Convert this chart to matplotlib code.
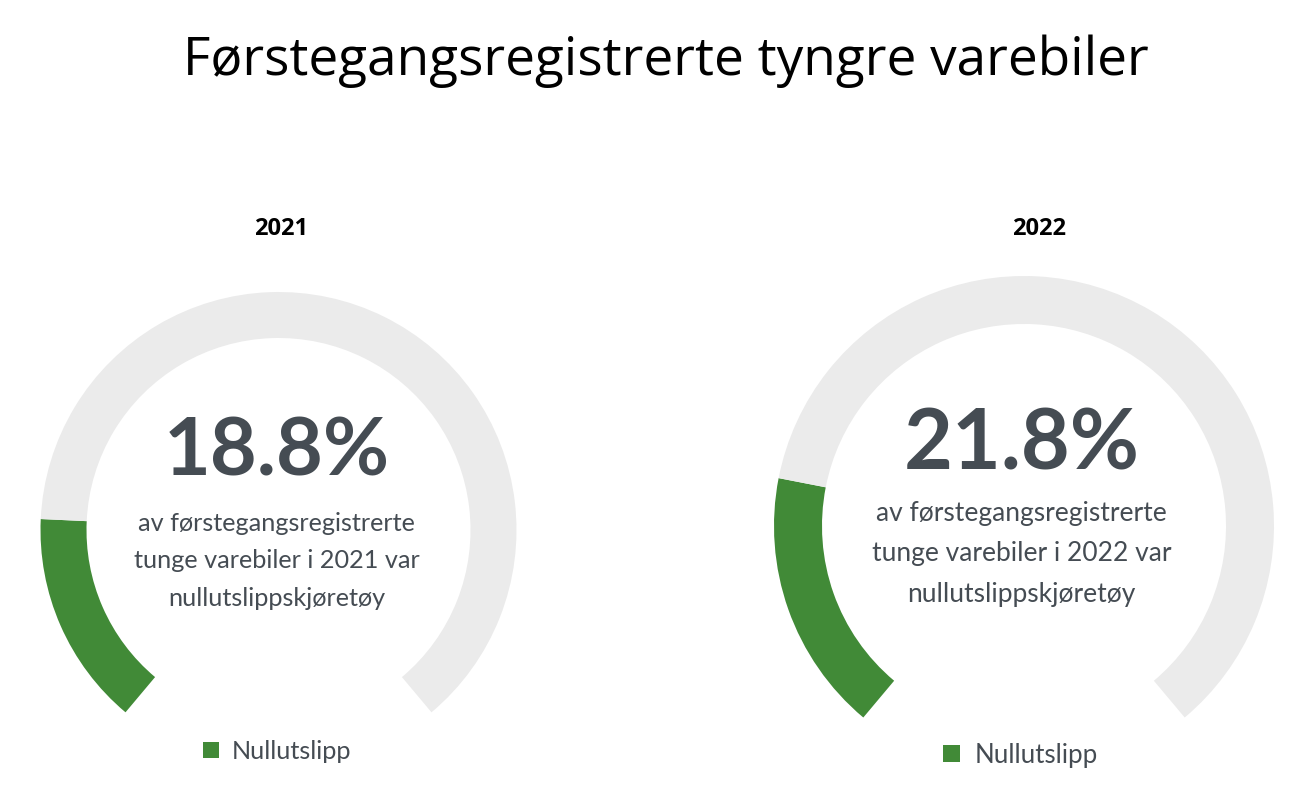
import matplotlib
matplotlib.use("Agg")
import matplotlib.pyplot as plt
from matplotlib.font_manager import FontProperties

# ---------------- data ----------------
title = "Førstegangsregistrerte tyngre varebiler"
years = ["2021", "2022"]
zero_emission_share = [18.8, 21.8]          # percent
series_label = "Nullutslipp"
big_labels = ["18.8%", "21.8%"]
body_lines = [
    ["av førstegangsregistrerte", "tunge varebiler i 2021 var", "nullutslippskjøretøy"],
    ["av førstegangsregistrerte", "tunge varebiler i 2022 var", "nullutslippskjøretøy"],
]

# ---------------- style ----------------
W, H, DPI = 1308, 802, 100
GREEN = "#418a37"
GRAY = "#ebebeb"
TEXT = "#454c53"
GAUGE_SPAN = 280.0
START_ANGLE = 230.0
gap_share = 100.0 * (360.0 - GAUGE_SPAN) / GAUGE_SPAN

fig = plt.figure(figsize=(W / DPI, H / DPI), dpi=DPI)
fig.patch.set_facecolor("white")
renderer = fig.canvas.get_renderer()


def fx(px):
    return px / W


def fy(py):
    return 1 - py / H


def text_width(s, size, **kw):
    t = fig.text(0, 0, s, fontsize=size, **kw)
    w = t.get_window_extent(renderer).width
    t.remove()
    return w


def fit_size(s, width_px, **kw):
    return 20 * width_px / text_width(s, 20, **kw)


def put(x, y, s, size, ha="center", va="baseline", **kw):
    return fig.text(fx(x), fy(y), s, fontsize=size, ha=ha, va=va, **kw)


# title
tkw = dict(family="Open Sans", color="black")
put(666, 75, title, fit_size(title, 962, **tkw), **tkw)

# gauge layout (pixels)
layouts = [
    dict(cx=278.5, cy=530, R=238, th=46, year_x=281, big_x=276.5, big_y=475, big_w=227,
         body_x=276.5, body_y=[531, 568, 606], body_w=278,
         leg_x=203, leg_y=751.5, leg_sq=16, leg_txt_x=232, leg_txt_w=120),
    dict(cx=1024, cy=526, R=250, th=48, year_x=1039, big_x=1021.5, big_y=470, big_w=237,
         body_x=1021.5, body_y=[521, 561, 602], body_w=291,
         leg_x=943, leg_y=755, leg_sq=17, leg_txt_x=975, leg_txt_w=123),
]

ykw = dict(family="Open Sans", weight="bold", color="black")
bkw = dict(family="Lato", weight="bold", color=TEXT)
lkw = dict(family="Lato", weight="normal", color=TEXT)

for i, L in enumerate(layouts):
    cx, cy, R = L["cx"], L["cy"], L["R"]
    ax = fig.add_axes([fx(cx - R), fy(cy + R), 2 * R / W, 2 * R / H])
    v = zero_emission_share[i]
    wedges, _ = ax.pie([v, 100 - v, gap_share], colors=[GREEN, GRAY, "none"],
                       startangle=START_ANGLE, counterclock=False, radius=1,
                       wedgeprops=dict(width=L["th"] / R, linewidth=0))
    ax.set_xlim(-1, 1)
    ax.set_ylim(-1, 1)
    ax.axis("off")

    # year label
    put(L["year_x"], 235, years[i], fit_size(years[i], 54, **ykw), **ykw)
    # big number
    put(L["big_x"], L["big_y"], big_labels[i], fit_size(big_labels[i], L["big_w"], **bkw), **bkw)
    # body text
    bs = fit_size(body_lines[i][0], L["body_w"], **lkw)
    for line, yy in zip(body_lines[i], L["body_y"]):
        put(L["body_x"], yy, line, bs, **lkw)

    # legend
    fs = fit_size(series_label, L["leg_txt_w"], family="Lato", weight="normal")
    fs_px = fs * DPI / 72.0
    hl = L["leg_sq"] / fs_px
    pad = (L["leg_txt_x"] - L["leg_x"] - L["leg_sq"]) / fs_px
    ax.legend(handles=[wedges[0]], labels=[series_label], loc="center left",
              bbox_to_anchor=(fx(L["leg_x"]), fy(L["leg_y"])),
              bbox_transform=fig.transFigure, frameon=False, borderpad=0,
              borderaxespad=0, handlelength=hl, handleheight=hl, handletextpad=pad,
              prop=FontProperties(family="Lato", weight="normal", size=fs),
              labelcolor=TEXT)

fig.savefig("out.png", dpi=DPI, facecolor="white")
